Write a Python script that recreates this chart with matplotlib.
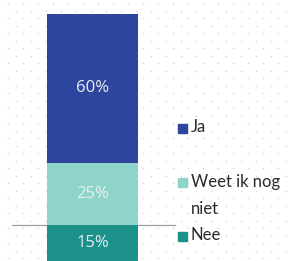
import numpy as np
import matplotlib
matplotlib.use("Agg")
import matplotlib.pyplot as plt
from matplotlib.patches import Rectangle
from matplotlib.lines import Line2D

categories = ["Nee", "Weet ik nog\nniet", "Ja"]
values = [15, 25, 60]
labels = ["15%", "25%", "60%"]
colors = ["#1b918a", "#8fd4c9", "#2d459c"]

W, H = 290, 261
fig = plt.figure(figsize=(W / 100, H / 100), dpi=100)
fig.patch.set_facecolor("white")

# dotted background
bg = fig.add_axes([0, 0, 1, 1], zorder=0)
bg.set_xlim(0, W)
bg.set_ylim(H, 0)
bg.axis("off")
ys = np.arange(3, H, 7.5)
for i, yy in enumerate(ys):
    xs = np.arange(8 + (7.5 if i % 2 else 0), W, 15)
    bg.scatter(xs, np.full_like(xs, yy), s=1.2, color="#d6d6d6", linewidths=0)

# separator line
fig.add_artist(Line2D([12 / W, 175 / W], [1 - 225 / H, 1 - 225 / H],
                      color="#a0a0a0", lw=0.9, zorder=1))

# stacked bar
ax = fig.add_axes([47 / W, -1 / H, 91 / W, 248 / H], zorder=2)
ax.set_xlim(-0.5, 0.5)
ax.set_ylim(0, 100)
ax.axis("off")
bottom = 0
for v, lab, c in zip(values, labels, colors):
    ax.bar(0, v, width=1, bottom=bottom, color=c, clip_on=False)
    ax.text(0, bottom + v / 2, lab, ha="center", va="center", color="#e8eef5",
            fontsize=12, family=["Open Sans", "DejaVu Sans"])
    bottom += v

# legend
leg_y = [236, 182, 128]
for cat, c, yy in zip(categories, colors, leg_y):
    fig.add_artist(Rectangle((178 / W, 1 - (yy + 4.5) / H), 9 / W, 9 / H,
                             transform=fig.transFigure, color=c, zorder=3))
    fig.text(191 / W, 1 - (yy - 8.5) / H, cat, ha="left", va="top",
             fontsize=12, color="#2a2a2a", family=["Lato", "DejaVu Sans"],
             linespacing=1.85, zorder=3)

fig.savefig("out.png", dpi=100)
